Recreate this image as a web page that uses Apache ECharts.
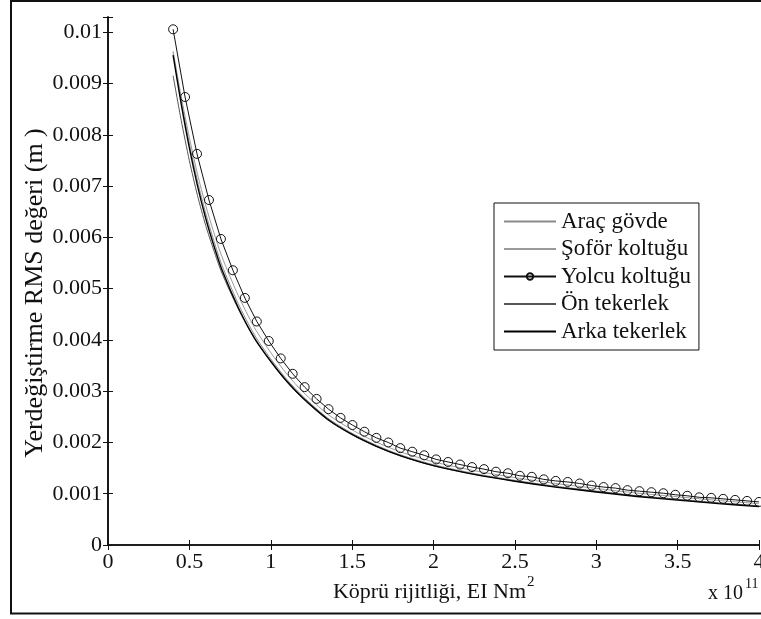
<!DOCTYPE html>
<html>
<head>
<meta charset="utf-8">
<script src="https://cdn.jsdelivr.net/npm/echarts@6/dist/echarts.min.js"></script>
<style>
html,body{margin:0;padding:0;background:#fff;overflow:hidden;}
#chart{width:761px;height:619px;}
</style>
</head>
<body>
<div id="chart"></div>
<script>
// ---- data ----
const xTicks = [0, 0.5, 1, 1.5, 2, 2.5, 3, 3.5, 4];
const yTicks = [0, 0.001, 0.002, 0.003, 0.004, 0.005, 0.006, 0.007, 0.008, 0.009, 0.01];

// Yolcu koltuğu (marker series) x grid (x 10^11 Nm^2)
const xMarked = [0.4,0.4735,0.5469,0.6204,0.6939,0.7673,0.8408,0.9143,0.9878,1.0612,
  1.1347,1.2082,1.2816,1.3551,1.4286,1.502,1.5755,1.649,1.7224,1.7959,
  1.8694,1.9429,2.0163,2.0898,2.1633,2.2367,2.3102,2.3837,2.4571,2.5306,
  2.6041,2.6776,2.751,2.8245,2.898,2.9714,3.0449,3.1184,3.1918,3.2653,
  3.3388,3.4122,3.4857,3.5592,3.6327,3.7061,3.7796,3.8531,3.9265,4.0];
const yolcu = [0.01006,0.00874,0.00763,0.00673,0.00597,0.00536,0.00482,0.00436,0.00398,0.00364,
  0.00334,0.00308,0.00285,0.00265,0.00248,0.00234,0.00221,0.00209,0.00200,0.00189,
  0.00182,0.00175,0.00167,0.00162,0.00157,0.00152,0.00148,0.00143,0.00140,0.00135,
  0.00133,0.00128,0.00125,0.00123,0.00120,0.00116,0.00113,0.00111,0.00107,0.00105,
  0.00103,0.00101,0.00098,0.00096,0.00093,0.00092,0.00090,0.00088,0.00086,0.00084];

// other series x grid
const xLine = [0.4,0.45,0.5,0.55,0.6,0.65,0.7,0.8,0.9,1.0,1.1,1.2,1.35,1.5,1.65,1.8,2.0,2.25,2.5,2.75,3.0,3.25,3.5,3.75,4.0];
const aracGovde = [0.009607,0.008665,0.007830,0.007098,0.006475,0.005939,0.005458,0.004710,0.004098,0.003631,0.003226,0.002892,0.002476,0.002179,0.001944,0.001756,0.001567,0.001395,0.001262,0.001148,0.001053,0.000964,0.000894,0.000824,0.000764];
const soforKoltugu = [0.009637,0.008747,0.007947,0.007235,0.006628,0.006099,0.005624,0.004869,0.004241,0.003753,0.003330,0.002979,0.002551,0.002246,0.002006,0.001814,0.001622,0.001450,0.001315,0.001200,0.001104,0.001013,0.000941,0.000869,0.000806];
const onTekerlek = [0.009155,0.008281,0.007497,0.006817,0.006238,0.005746,0.005304,0.004608,0.004027,0.003576,0.003177,0.002846,0.002439,0.002148,0.001919,0.001733,0.001546,0.001379,0.001248,0.001136,0.001043,0.000956,0.000887,0.000818,0.000759];
const arkaTekerlek = [0.009557,0.008601,0.007747,0.007007,0.006378,0.005842,0.005369,0.004634,0.004036,0.003584,0.003188,0.002861,0.002453,0.002157,0.001925,0.001739,0.001548,0.001377,0.001244,0.001130,0.001035,0.000946,0.000876,0.000807,0.000748];

const names = ['Araç gövde', 'Şoför koltuğu', 'Yolcu koltuğu', 'Ön tekerlek', 'Arka tekerlek'];

function pairs(xs, ys){ return xs.map((x,i)=>[x, ys[i]]); }

const FONT = 'Liberation Serif';
const TXT = '#111';

const chart = echarts.init(document.getElementById('chart'), null, {renderer:'canvas'});

const axisLine = {show:true, lineStyle:{color:'#111', width:1.6}};
const tickIn = {show:true, inside:true, length:5, lineStyle:{color:'#111', width:1}};

function yFmt(v){
  const k = v*1000;
  if (Math.abs(k - Math.round(k)) > 1e-6) return '';
  return String(Number(v.toFixed(4)));
}

const hidden = {color:'rgba(0,0,0,0)', borderWidth:0, opacity:0};

chart.setOption({
  animation:false,
  backgroundColor:'#fff',
  grid:{left:108, top:17, right:2, bottom:74, containLabel:false, outerBoundsMode:'none'},
  xAxis:[
    {type:'value', position:'bottom', min:xTicks[0], max:xTicks[xTicks.length-1], interval:0.5,
     axisLine:axisLine, axisTick:tickIn, splitLine:{show:false},
     axisLabel:{fontFamily:FONT, fontSize:22, color:TXT, margin:6, formatter:v=>String(v)}},
    {type:'value', position:'top', min:xTicks[0], max:xTicks[xTicks.length-1], interval:0.5,
     axisLine:axisLine, axisTick:tickIn, splitLine:{show:false}, axisLabel:{show:false}}
  ],
  yAxis:[
    {type:'value', position:'left', min:yTicks[0], max:0.0103, interval:0.001,
     axisLine:axisLine, axisTick:tickIn, splitLine:{show:false},
     axisLabel:{fontFamily:FONT, fontSize:22, color:TXT, margin:6, formatter:yFmt}},
    {type:'value', position:'right', min:yTicks[0], max:0.0103, interval:0.001,
     axisLine:axisLine, axisTick:tickIn, splitLine:{show:false}, axisLabel:{show:false}}
  ],
  legend:{
    orient:'vertical', left:494, top:203,
    data:[
      {name:names[0], itemStyle:hidden},
      {name:names[1], itemStyle:hidden},
      {name:names[2]},
      {name:names[3], itemStyle:hidden},
      {name:names[4], itemStyle:hidden}
    ],
    backgroundColor:'#fff', borderColor:'#111', borderWidth:1,
    padding:[7,8,7,9], itemWidth:52, itemHeight:8, itemGap:4.5,
    textStyle:{fontFamily:FONT, fontSize:23, color:TXT, lineHeight:23},
    selectedMode:false
  },
  series:[
    {name:names[0], type:'line', data:pairs(xLine, aracGovde), showSymbol:false, symbol:'none',
     smooth:0.25,
     lineStyle:{color:'#8a8a8a', width:1}, itemStyle:{color:'#8a8a8a'}},
    {name:names[1], type:'line', data:pairs(xLine, soforKoltugu), showSymbol:false, symbol:'none',
     smooth:0.25,
     lineStyle:{color:'#9a9a9a', width:1}, itemStyle:{color:'#9a9a9a'}},
    {name:names[2], type:'line', data:pairs(xMarked, yolcu), symbol:'circle', symbolSize:9, showSymbol:true,
     lineStyle:{color:'#111', width:1},
     itemStyle:{color:'rgba(255,255,255,0)', borderColor:'#111', borderWidth:1}},
    {name:names[3], type:'line', data:pairs(xLine, onTekerlek), showSymbol:false, symbol:'none',
     smooth:0.25,
     lineStyle:{color:'#555', width:1}, itemStyle:{color:'#555'}},
    {name:names[4], type:'line', data:pairs(xLine, arkaTekerlek), showSymbol:false, symbol:'none',
     smooth:0.25,
     lineStyle:{color:'#000', width:1.4}, itemStyle:{color:'#000'}}
  ],
  graphic:[
    {type:'rect', shape:{x:11, y:1, width:760, height:612.5}, style:{fill:'none', stroke:'#111', lineWidth:2}, z:100, silent:true},
    {type:'text', x:35, y:293, rotation:Math.PI/2, style:{text:'Yerdeğiştirme RMS değeri (m )', fontFamily:FONT, fontSize:26, fill:TXT, textAlign:'center', textVerticalAlign:'middle'}},
    {type:'text', x:526, y:603, style:{text:'Köprü rijitliği, EI Nm', fontFamily:FONT, fontSize:22, fill:TXT, textAlign:'right', textVerticalAlign:'bottom'}},
    {type:'text', x:527, y:590, style:{text:'2', fontFamily:FONT, fontSize:15, fill:TXT, textAlign:'left', textVerticalAlign:'bottom'}},
    {type:'text', x:743, y:604, style:{text:'x 10', fontFamily:FONT, fontSize:20, fill:TXT, textAlign:'right', textVerticalAlign:'bottom'}},
    {type:'text', x:745, y:591, style:{text:'11', fontFamily:FONT, fontSize:14, fill:TXT, textAlign:'left', textVerticalAlign:'bottom'}}
  ]
});
</script>
</body>
</html>
